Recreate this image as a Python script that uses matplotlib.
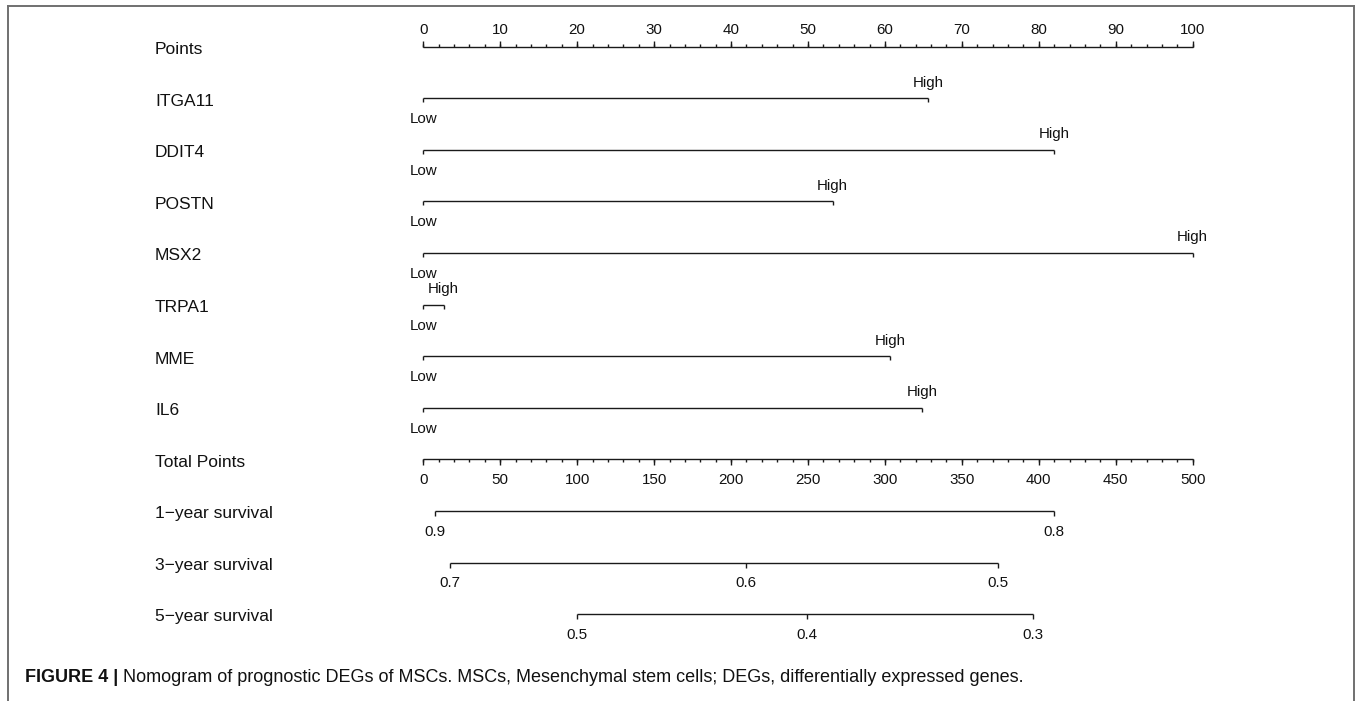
import matplotlib
matplotlib.use("Agg")
import matplotlib.pyplot as plt
from matplotlib.lines import Line2D
import numpy as np

plt.rcParams['font.family'] = ['Liberation Sans', 'DejaVu Sans']

# ---------------- data ----------------
row_labels = ["Points", "ITGA11", "DDIT4", "POSTN", "MSX2", "TRPA1", "MME", "IL6",
              "Total Points", "1\u2212year survival", "3\u2212year survival", "5\u2212year survival"]

genes = ["ITGA11", "DDIT4", "POSTN", "MSX2", "TRPA1", "MME", "IL6"]
gene_high_points = [65.6, 82.0, 53.2, 100.0, 2.65, 60.7, 64.8]
gene_low_points = [0, 0, 0, 0, 0, 0, 0]
gene_levels = ["Low", "High"]

points_major = list(range(0, 101, 10))
points_minor = list(range(0, 101, 2))

total_major = list(range(0, 501, 50))
total_minor = list(range(0, 501, 10))
total_max = 500

surv1_labels = ["0.9", "0.8"]
surv1_total = [7.6, 409.8]
surv3_labels = ["0.7", "0.6", "0.5"]
surv3_total = [17.1, 209.6, 373.2]
surv5_labels = ["0.5", "0.4", "0.3"]
surv5_total = [99.9, 249.5, 396.0]

caption_bold = "FIGURE 4 | "
caption_text = ("Nomogram of prognostic DEGs of MSCs. MSCs, Mesenchymal stem cells; "
                "DEGs, differentially expressed genes.")

# ---------------- layout ----------------
W, H = 1356, 701
fig = plt.figure(figsize=(W / 100, H / 100), dpi=100)
ax = fig.add_axes([0, 0, 1, 1])
ax.axis('off')

x0_px, px_per_pt = 423.3, 7.694
row0_px, row_px = 46.6, 51.6
ax.set_xlim(-x0_px / px_per_pt, (W - x0_px) / px_per_pt)
ax.set_ylim((H - row0_px) / row_px, -row0_px / row_px)

py = 1.0 / row_px  # one pixel in row units
line_kw = dict(color='#1a1a1a', lw=1.0)
FS_LAB = 12.5
FS_TICK = 10.9
label_x = (155 - x0_px) / px_per_pt
TXT = '#111111'

def tp(v):
    return np.asarray(v, dtype=float) * 100.0 / total_max

# row labels
for i, lab in enumerate(row_labels):
    ax.text(label_x, i + 7.3 * py, lab, fontsize=FS_LAB, ha='left', va='baseline', color=TXT)

# Points axis (row 0): ticks upward, labels above
r = 0
ax.plot([points_major[0], points_major[-1]], [r, r], solid_capstyle='butt', **line_kw)
ax.vlines(points_minor, r, r - 3 * py, **line_kw)
ax.vlines(points_major, r, r - 6 * py, **line_kw)
for v in points_major:
    ax.text(v, r - 12.4 * py, str(v), fontsize=FS_TICK, ha='center', va='baseline', color=TXT)

# gene rows
for k, g in enumerate(genes):
    r = row_labels.index(g)
    lo, hi = gene_low_points[k], gene_high_points[k]
    ax.plot([lo, hi], [r, r], solid_capstyle='butt', **line_kw)
    ax.vlines([lo, hi], r, r + 4 * py, **line_kw)
    ax.text(lo, r + 25 * py, gene_levels[0], fontsize=FS_TICK, ha='center', va='baseline', color=TXT)
    ax.text(hi, r - 11.7 * py, gene_levels[1], fontsize=FS_TICK, ha='center', va='baseline', color=TXT)

# Total points axis: ticks downward, labels below
r = row_labels.index("Total Points")
ax.plot(tp([total_major[0], total_major[-1]]), [r, r], solid_capstyle='butt', **line_kw)
ax.vlines(tp(total_minor), r, r + 3 * py, **line_kw)
ax.vlines(tp(total_major), r, r + 5.5 * py, **line_kw)
for v in total_major:
    ax.text(tp(v), r + 24.7 * py, str(v), fontsize=FS_TICK, ha='center', va='baseline', color=TXT)

# survival axes
for name, labs, tots in [("1\u2212year survival", surv1_labels, surv1_total),
                         ("3\u2212year survival", surv3_labels, surv3_total),
                         ("5\u2212year survival", surv5_labels, surv5_total)]:
    r = row_labels.index(name)
    xs = tp(tots)
    ax.plot([xs.min(), xs.max()], [r, r], solid_capstyle='butt', **line_kw)
    ax.vlines(xs, r, r + 5 * py, **line_kw)
    for x, l in zip(xs, labs):
        ax.text(x, r + 24.7 * py, l, fontsize=FS_TICK, ha='center', va='baseline', color=TXT)

# frame around figure (open at bottom)
fc = '#707070'
fig.add_artist(Line2D([7.5 / W, 7.5 / W], [0, 1 - 6 / H], transform=fig.transFigure, color=fc, lw=1.4))
fig.add_artist(Line2D([7.5 / W, 1353.5 / W], [1 - 6 / H, 1 - 6 / H], transform=fig.transFigure, color=fc, lw=1.4))
fig.add_artist(Line2D([1353.5 / W, 1353.5 / W], [0, 1 - 6 / H], transform=fig.transFigure, color=fc, lw=1.4))

# caption
t1 = fig.text(25 / W, 1 - 682 / H, caption_bold, fontsize=13, fontweight='bold',
              ha='left', va='baseline', color=TXT)
fig.canvas.draw()
bb = t1.get_window_extent()
fig.text(bb.x1 / W, 1 - 682 / H, caption_text, fontsize=13, ha='left', va='baseline', color=TXT)

fig.savefig("out.png", dpi=100)
